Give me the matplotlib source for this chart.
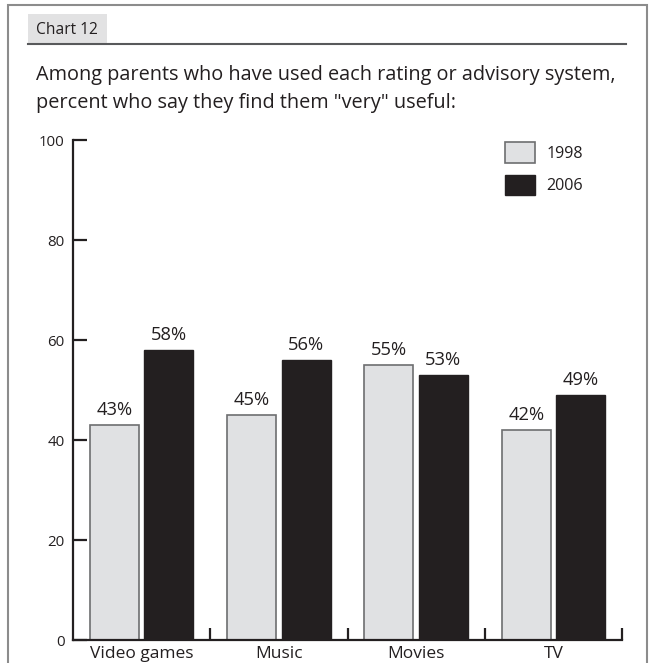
import numpy as np
import matplotlib.pyplot as plt
from matplotlib.patches import Rectangle
from matplotlib.lines import Line2D

# ------------------------------ Data ------------------------------
categories = ["Video games", "Music", "Movies", "TV"]
years = ["1998", "2006"]
vals_1998 = [43, 45, 55, 42]
vals_2006 = [58, 56, 53, 49]
y_ticks = [0, 20, 40, 60, 80, 100]

# ------------------------------ Style ------------------------------
plt.rcParams['font.family'] = ['Open Sans', 'DejaVu Sans']
DARK = "#231f20"
LIGHT = "#e0e1e3"
EDGE = "#6d6e70"
W, H = 650, 663

fig = plt.figure(figsize=(W / 100, H / 100), dpi=100)

# outer frame (bottom edge off canvas)
fig.patches.append(Rectangle((8 / W, -0.05), (647 - 8) / W, 1.05 - 5 / H,
                             transform=fig.transFigure, fill=False,
                             edgecolor="#8c8c8c", lw=1.5))
# "Chart 12" tab + rule
fig.patches.append(Rectangle((28 / W, 1 - 43 / H), (107 - 28) / W, 29 / H,
                             transform=fig.transFigure, facecolor="#e2e2e3",
                             edgecolor="none"))
fig.lines.append(Line2D([28 / W, 626 / W], [1 - 44 / H, 1 - 44 / H],
                        transform=fig.transFigure, color="#58595b", lw=1.5))
fig.text(36 / W, 1 - 30 / H, "Chart 12", fontsize=11.2, color=DARK,
         va="center", ha="left")
fig.text(36 / W, 1 - 75 / H,
         "Among parents who have used each rating or advisory system,",
         fontsize=14.3, color=DARK, va="center", ha="left")
fig.text(36 / W, 1 - 103 / H,
         "percent who say they find them \"very\" useful:",
         fontsize=14.3, color=DARK, va="center", ha="left")

# ------------------------------ Axes ------------------------------
ax = fig.add_axes([73 / W, 1 - 640 / H, (622 - 73) / W, 500 / H])
x = np.arange(len(categories)) + 0.5
bw = 0.357
off = 0.198
b1 = ax.bar(x - off, vals_1998, bw, color=LIGHT, edgecolor=EDGE, lw=1.2,
            label=years[0])
b2 = ax.bar(x + off, vals_2006, bw, color=DARK, edgecolor=DARK, lw=1.0,
            label=years[1])
for bars, vals in ((b1, vals_1998), (b2, vals_2006)):
    ax.bar_label(bars, labels=[f"{v}%" for v in vals], padding=4,
                 fontsize=13.2, color=DARK)

ax.set_xlim(0, len(categories))
ax.set_ylim(0, 100)
for s in ("top", "right"):
    ax.spines[s].set_visible(False)
for s in ("left", "bottom"):
    ax.spines[s].set_color(DARK)
    ax.spines[s].set_linewidth(1.6)

ax.set_yticks(y_ticks)
ax.tick_params(axis="y", direction="in", length=10, width=1.6, color=DARK,
               labelsize=10.8, labelcolor=DARK, pad=6)
ax.set_xticks(x)
ax.set_xticklabels(categories)
ax.tick_params(axis="x", which="major", length=0, labelsize=12.5,
               labelcolor=DARK, pad=4.5)
ax.set_xticks(np.arange(1, len(categories) + 1), minor=True)
ax.tick_params(axis="x", which="minor", direction="in", length=9,
               width=1.6, color=DARK)

ax.legend(loc="upper left", bbox_to_anchor=(0.76, 1.025), frameon=False,
          fontsize=11.6, handlelength=1.85, handleheight=1.6,
          labelspacing=0.75, handletextpad=0.75, labelcolor=DARK)

fig.savefig("out.png", dpi=100)
